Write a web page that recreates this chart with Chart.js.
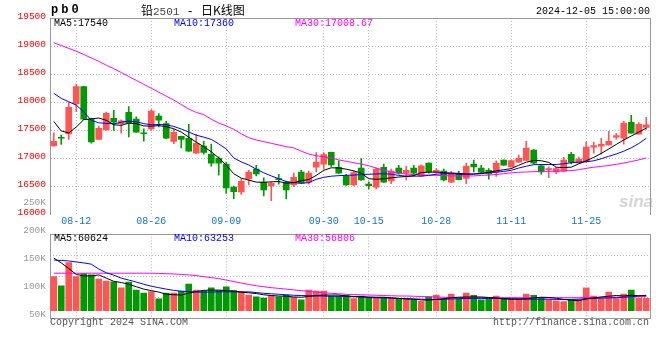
<!DOCTYPE html>
<html><head><meta charset="utf-8">
<script src="https://cdn.jsdelivr.net/npm/chart.js@4.4.1/dist/chart.umd.min.js"></script>
<style>
html,body{margin:0;padding:0;background:#fff;}
#wrap{position:relative;width:660px;height:360px;overflow:hidden;font-family:"Liberation Mono",monospace;}
canvas{position:absolute;left:0;}
#pc{top:0;} #vc{top:190px;}
.t{position:absolute;white-space:nowrap;font-size:10px;line-height:10px;}
</style></head>
<body><div id="wrap">
<div class="t" style="left:619px;top:193px;font:italic bold 17px 'Liberation Sans';line-height:17px;color:#d6d6d6;">sina</div>
<canvas id="pc" width="660" height="232"></canvas>
<canvas id="vc" width="660" height="140"></canvas>
<div class="t" style="left:51px;top:4px;font-weight:bold;font-size:12px;line-height:12px;letter-spacing:3px;">pb0</div>
<div class="t" style="left:141px;top:4px;font-size:12px;line-height:12px;"><span style="font-family:'Noto Sans CJK SC'">铅</span><span style="color:#444;font-size:11px">2501</span> - <span style="font-family:'Noto Sans CJK SC'">日K线图</span></div>
<div class="t" style="right:10px;top:7px;">2024-12-05 15:00:00</div>
<div class="t" id="pm5" style="left:54px;top:19px;color:#000"></div>
<div class="t" id="pm10" style="left:174px;top:19px;color:#0000ff"></div>
<div class="t" id="pm30" style="left:295px;top:19px;color:#ff00ff"></div>
<div class="t" id="vm5" style="left:54px;top:234px;color:#000"></div>
<div class="t" id="vm10" style="left:174px;top:234px;color:#0000ff"></div>
<div class="t" id="vm30" style="left:295px;top:234px;color:#ff00ff"></div>
<div class="t" style="left:50px;top:318px;color:#555">Copyright 2024 SINA.COM</div>
<div class="t" style="right:11px;top:318px;color:#555">http://finance.sina.com.cn</div>
</div>
<script>
const dates = ['08-07','08-08','08-09','08-12','08-13','08-14','08-15','08-16','08-19','08-20','08-21','08-22','08-23','08-26','08-27','08-28','08-29','08-30',
'09-02','09-03','09-04','09-05','09-06','09-09','09-10','09-11','09-12','09-13','09-18','09-19','09-20','09-23','09-24','09-25','09-26','09-27','09-30',
'10-08','10-09','10-10','10-11','10-14','10-15','10-16','10-17','10-18','10-21','10-22','10-23','10-24','10-25','10-28','10-29','10-30','10-31',
'11-01','11-04','11-05','11-06','11-07','11-08','11-11','11-12','11-13','11-14','11-15','11-18','11-19','11-20','11-21','11-22','11-25','11-26','11-27','11-28','11-29',
'12-02','12-03','12-04','12-05'];
const xTickLabels = ['08-12','08-26','09-09','09-30','10-15','10-28','11-11','11-25'];
const priceTicks = [16000,16500,17000,17500,18000,18500,19000,19500];
const volTicks = [250000,200000,150000,100000,50000];

const opens  = [17225,17375,17436,17970,18280,17700,17340,17510,17715,17620,17820,17700,17450,17525,17755,17620,17305,17395,17360,17095,17220,17075,17005,16900,16490,16405,16640,16810,16580,16510,16640,16580,16530,16760,16580,16845,16900,17110,16845,16685,16530,16830,16545,16490,16845,16600,16830,16740,16830,16690,16920,16760,16775,16580,16720,16645,16900,16830,16790,16755,16970,16850,16935,16965,17150,16870,16800,16760,16775,17075,16920,16950,17200,17220,17240,17380,17360,17644,17431,17555];
const highs  = [17455,17415,17995,18320,18285,17720,17575,17825,17855,17690,17925,17740,17530,17870,17800,17660,17520,17400,17610,17430,17305,17255,17030,16935,16510,16640,16790,16880,16655,16580,16720,16600,16740,16790,16775,17105,17105,17115,16960,16720,16780,17000,16585,16830,16900,16810,16880,16860,16880,16885,16925,16820,16810,16770,16770,16920,16970,16880,16820,16960,16975,16970,17060,17305,17160,16890,16850,16845,17020,17110,17025,17295,17290,17360,17484,17449,17661,17768,17640,17732];
const lows   = [17220,17250,17340,17835,17695,17275,17340,17505,17500,17450,17385,17465,17310,17500,17560,17355,17265,17190,17125,17090,17075,16865,16705,16380,16285,16360,16530,16690,16335,16250,16545,16280,16500,16555,16545,16760,16810,16860,16735,16520,16510,16610,16460,16460,16575,16550,16720,16620,16690,16680,16740,16740,16600,16570,16620,16550,16760,16750,16630,16680,16875,16845,16930,16960,16905,16720,16660,16725,16770,16905,16915,16935,17094,17076,17236,17342,17253,17449,17431,17519];
const closes = [17305,17360,17910,18280,17700,17295,17535,17805,17645,17670,17630,17470,17440,17845,17680,17360,17465,17340,17130,17270,17110,16915,16915,16475,16410,16595,16760,16725,16440,16560,16625,16440,16665,16560,16740,16935,17070,16885,16740,16530,16750,16620,16515,16810,16580,16775,16740,16790,16740,16870,16760,16790,16620,16740,16625,16865,16850,16755,16725,16920,16880,16965,17005,17185,16915,16760,16820,16820,16970,16935,16990,17205,17230,17250,17305,17410,17630,17450,17610,17600];

const ma5  = [17660,17490,17455,17560,17690,17705,17720,17680,17600,17590,17630,17620,17580,17575,17585,17565,17530,17470,17380,17290,17210,17120,17010,16880,16730,16650,16615,16580,16575,16585,16590,16560,16570,16605,16625,16700,16790,16835,16830,16810,16780,16740,16640,16630,16640,16655,16670,16680,16695,16750,16757,16757,16750,16740,16735,16725,16722,16730,16755,16780,16800,16820,16880,16935,16965,16960,16930,16845,16840,16845,16905,16960,17020,17090,17170,17250,17330,17400,17470,17540];
const ma10 = [18160,18070,18010,17950,17830,17680,17635,17625,17615,17645,17665,17655,17620,17600,17605,17600,17570,17525,17470,17415,17380,17340,17260,17170,17010,16940,16885,16810,16745,16690,16640,16590,16570,16560,16570,16630,16665,16685,16695,16700,16705,16715,16720,16725,16730,16720,16700,16686,16686,16686,16700,16720,16730,16730,16720,16716,16725,16740,16750,16757,16770,16790,16830,16863,16890,16893,16893,16893,16905,16925,16935,16940,16960,16995,17040,17080,17130,17190,17266,17360];
const ma30 = [19060,19010,18960,18910,18850,18790,18730,18660,18600,18530,18460,18390,18320,18250,18180,18110,18040,17960,17880,17820,17780,17700,17630,17580,17520,17440,17370,17330,17300,17270,17240,17210,17190,17130,17080,17050,17030,17010,16975,16950,16925,16900,16870,16830,16790,16760,16740,16722,16715,16708,16704,16700,16695,16690,16690,16690,16690,16700,16705,16715,16730,16745,16755,16760,16765,16770,16772,16775,16780,16785,16800,16825,16845,16860,16875,16895,16920,16945,16975,17008.67];

const volumes = [139000,102000,196000,139000,151000,146000,129000,121000,118000,93000,117000,84000,72000,78000,48000,72000,72000,79000,109000,84000,80000,93000,82000,97000,82000,76000,64000,57000,52000,61000,57000,64000,55000,44000,84000,80000,80000,
60000,60000,64000,49000,60000,55000,55000,55000,49000,47000,49000,45000,38000,57000,64000,48000,68000,48000,72000,63000,44000,48000,60000,48000,48000,49000,68000,63000,55000,44000,40000,37000,44000,44000,93000,60000,48000,76000,49000,68000,84000,51000,51000];
const vma5  = [215000,195000,172000,148000,142000,142000,146000,133000,120000,115000,108000,98000,88000,82000,76000,67000,65000,64000,72000,78000,83000,84000,84000,82000,80000,76000,73000,70000,65000,62000,60000,59000,56000,55000,58000,62000,64000,64000,64000,60000,58000,57000,56000,55000,55000,53000,50000,48000,47000,44000,43000,46000,49000,53000,55000,56000,56000,56000,54000,52000,48000,47000,47000,49000,52000,55000,54000,51000,46000,43000,41000,48000,52000,56000,59000,62000,60000,63000,61000,60624];
const vma10 = [207000,205000,203000,199000,195000,190000,170000,155000,145000,133000,125000,117000,108000,100000,94000,88000,83000,80000,78000,76000,76000,76000,77000,77000,77000,77000,77000,74000,71000,69000,67000,65000,63000,62000,61000,60000,60000,59000,59000,58000,57000,56000,54000,53000,52000,51000,50000,49000,48000,47000,46000,46000,47000,48000,49000,50000,50000,50000,50000,50000,50000,49000,48000,47000,47000,47000,47000,46000,46000,46000,47000,49000,50000,51000,52000,53000,55000,57000,60000,63253];
const vma30 = [153000,153000,153000,153000,153000,153000,153000,153000,153000,153000,153000,153000,153000,153000,152000,151000,150000,148000,146000,143000,139000,135000,131000,125000,119000,113000,107000,102000,98000,94000,91000,88000,85000,82000,79000,76000,73000,71000,69000,67000,66000,65000,64000,63000,62000,61000,60000,60000,59000,58000,57000,56000,55000,54000,54000,53000,53000,53000,53000,53000,53000,53000,53000,53000,53000,53000,53000,53000,53000,53000,53000,54000,54000,55000,55000,55000,56000,56000,56500,56806];

const last = a => a[a.length-1];
document.getElementById('pm5').textContent = 'MA5:' + last(ma5);
document.getElementById('pm10').textContent = 'MA10:' + last(ma10);
document.getElementById('pm30').textContent = 'MA30:' + last(ma30);
document.getElementById('vm5').textContent = 'MA5:' + last(vma5);
document.getElementById('vm10').textContent = 'MA10:' + last(vma10);
document.getElementById('vm30').textContent = 'MA30:' + last(vma30);

const RED = '#ff5555', GREEN = '#009900', GRID = '#b8b8b8', FRAME = '#999999', XBLUE = '#1177cc';
const NONE = 'rgba(0,0,0,0)';
const cc = closes.map((c, i) => c >= opens[i] ? RED : GREEN);
const showTick = i => xTickLabels.includes(dates[i]);

Chart.defaults.font.family = 'Liberation Mono';

const lineDs = (data, color, axis) => ({type:'line', data, borderColor:color, borderWidth:1, pointRadius:0, tension:0, order:0, yAxisID:axis});
const xGrid = {display:true, offset:false, drawTicks:false, lineWidth:1, color: c => showTick(c.index) ? GRID : NONE};
const frameAxisX = {type:'category', position:'top', display:true, grid:{display:false, drawTicks:false}, ticks:{display:false}, border:{display:true, color:FRAME}, afterFit: s => { s.height = 0; }};
const frameAxisY = {position:'right', display:true, grid:{display:false, drawTicks:false}, ticks:{display:false}, border:{display:true, color:FRAME}, afterFit: s => { s.width = 0; }};
const common = {responsive:false, animation:false, events:[], devicePixelRatio:1,
  plugins:{legend:{display:false}, tooltip:{enabled:false}}};

new Chart(document.getElementById('pc'), {
  type:'bar',
  data:{labels:dates, datasets:[
    lineDs(ma5, '#000000', 'y'),
    lineDs(ma10, '#0000ff', 'y'),
    lineDs(ma30, '#ff00ff', 'y'),
    {data: opens.map((o, i) => [o, closes[i]]), backgroundColor:cc, barThickness:6, minBarLength:1, grouped:false, order:1, yAxisID:'y'},
    {data: lows.map((l, i) => [l, highs[i]]), backgroundColor:cc, barThickness:1, grouped:false, order:2, yAxisID:'y'}
  ]},
  options:{...common,
    layout:{padding:{top:18, right:10, bottom:5.3, left:0}},
    scales:{
      x:{type:'category', offset:true, grid:xGrid, border:{display:false, dash:[1,2]},
         ticks:{autoSkip:false, maxRotation:0, minRotation:0, padding:1, color:XBLUE, font:{size:10},
                callback:(v, i) => showTick(i) ? dates[i] : ''},
         afterFit: s => { s.height = 12; }},
      xT: frameAxisX,
      y:{position:'left', min:priceTicks[0], max:last(priceTicks),
         afterBuildTicks: s => { s.ticks = priceTicks.map(v => ({value:v})); },
         grid:{drawTicks:false, color: c => (c.index === 0 || c.index === priceTicks.length-1) ? NONE : GRID},
         border:{display:true, color:FRAME, dash:[1,2]},
         ticks:{autoSkip:false, color:'#ff0000', padding:4, labelOffset:-2, font:{size:9.5}, callback: v => String(v)},
         afterFit: s => { s.width = 50; }},
      yR: frameAxisY
    }
  }
});

new Chart(document.getElementById('vc'), {
  type:'bar',
  data:{labels:dates, datasets:[
    lineDs(vma5, '#000000', 'y'),
    lineDs(vma10, '#0000ff', 'y'),
    lineDs(vma30, '#ff00ff', 'y'),
    {data: volumes, backgroundColor:cc, barThickness:6, grouped:false, order:1, yAxisID:'y'}
  ]},
  options:{...common,
    layout:{padding:{top:44.3, right:10, bottom:11.7, left:0}},
    scales:{
      x:{type:'category', offset:true, grid:xGrid, border:{display:true, color:FRAME, dash:[1,2]},
         ticks:{display:false}, afterFit: s => { s.height = 0; }},
      xT: frameAxisX,
      yl:{position:'left', min:42800, max:192900,
          afterBuildTicks: s => { s.ticks = volTicks.map(v => ({value:v})); },
          grid:{display:false, drawTicks:false}, border:{display:true, color:FRAME},
          ticks:{autoSkip:false, color:'#999999', padding:4, font:{size:9.5}, callback: v => (v/1000) + 'K'},
          afterFit: s => { s.width = 50; }},
      y:{position:'right', min:-31000, max:311800,
         afterBuildTicks: s => { const st = (s.max - s.min) / 4; s.ticks = [0,1,2,3,4].map(k => ({value: s.min + k*st})); },
         grid:{drawTicks:false, color: c => (c.index === 0 || c.index === 4) ? NONE : GRID},
         border:{display:true, color:FRAME, dash:[1,2]},
         ticks:{display:false}, afterFit: s => { s.width = 0; }}
    }
  }
});
</script>
</body></html>
